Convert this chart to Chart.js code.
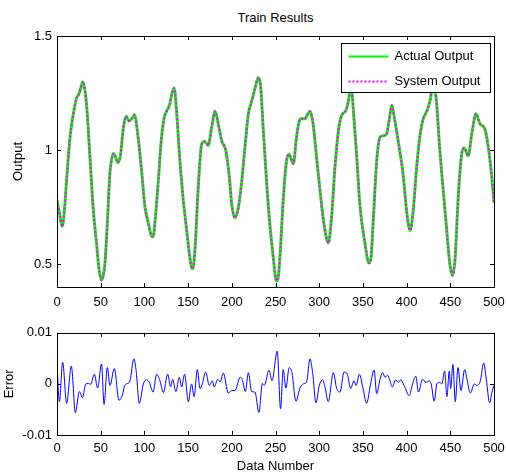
<!DOCTYPE html>
<html><head><meta charset="utf-8">
<script src="https://cdn.jsdelivr.net/npm/chart.js@4.4.0/dist/chart.umd.min.js"></script>
<style>
html,body{margin:0;padding:0;background:#fff;}
#wrap{position:relative;width:506px;height:474px;overflow:hidden;background:#fff;}
#c1{position:absolute;left:0;top:0;}
#c2{position:absolute;left:0;top:320px;}
#title{position:absolute;top:10px;left:0;width:551px;text-align:center;font:13px "Liberation Sans",Arial,sans-serif;line-height:16px;color:#000;}
</style></head><body>
<div id="wrap">
<div id="title">Train Results</div>
<canvas id="c1" width="506" height="320"></canvas>
<canvas id="c2" width="506" height="154"></canvas>
</div>
<script>
// ---- data ----
const outputIndex = [0,3,6,9,11,15,19,22.5,25,27,29.5,32,34,38,41.5,45.5,48,51,53,55,58,60.5,62.5,64.5,66.5,69.5,72.5,76,79,82.5,86,88.5,93,97,100.5,104.5,108,110,112,116,119,122.5,126,129,131,134,137,140.5,144.5,148.5,152,154.5,156,158,161.5,165.5,168.5,171,173,177,181,184.5,188.5,193,197,200,203.5,207.5,211,215,219,222.5,226.5,230.5,233,236,240,243.5,247.5,251,253,255,259,262.5,265.5,268,270.5,274,278.5,283.5,286.5,289.5,293,297,301,304.5,308,310.5,314,318,322,325.5,330.5,333.5,336.5,339,343,346.5,352,357,359,362,365.5,369.5,373,377,380,383,386.5,392,396,400,404,407.5,411.5,415.5,419,423.5,427,430.5,434,438,442,446,449.5,452.5,455.5,459,463,466,470.5,474.5,479.5,484,489.5,493.5,497.5,500];
const actualOutput = [0.78,0.72,0.665,0.76,0.87,1.06,1.165,1.23,1.245,1.27,1.30,1.26,1.19,0.95,0.74,0.58,0.48,0.43,0.45,0.51,0.71,0.90,0.96,0.985,0.975,0.945,0.975,1.10,1.148,1.128,1.14,1.155,1.05,0.90,0.755,0.68,0.625,0.62,0.68,0.87,1.03,1.14,1.175,1.20,1.24,1.272,1.16,0.96,0.78,0.645,0.53,0.48,0.49,0.57,0.83,1.025,1.038,1.03,1.02,1.10,1.17,1.115,1.04,1.00,0.89,0.76,0.703,0.748,0.85,1.01,1.16,1.21,1.27,1.318,1.28,1.09,0.85,0.675,0.527,0.427,0.44,0.527,0.79,0.95,0.982,0.96,0.94,1.056,1.137,1.137,1.155,1.17,1.115,0.968,0.82,0.703,0.62,0.593,0.70,0.924,1.085,1.15,1.173,1.217,1.29,1.18,0.968,0.762,0.60,0.505,0.52,0.70,0.938,1.056,1.063,1.07,1.13,1.195,1.13,1.00,0.894,0.733,0.648,0.733,0.924,1.07,1.137,1.173,1.22,1.29,1.22,1.00,0.82,0.644,0.50,0.451,0.527,0.79,0.982,1.009,0.975,1.07,1.159,1.115,1.093,1.012,0.88,0.77];
const systemOutput = actualOutput.slice();

const errorIndex = [0,2.7,6.5,11,16.4,21,25.6,29,33,36,38.5,42.7,46.5,51,53.8,57.6,60.6,65.6,70.9,74.8,77.4,80.9,83.5,88,90.4,94.2,98.8,102.6,105.6,110,114,117.8,121.7,126.6,130,132.3,136,140,142.6,146,150.3,154,156.8,160.6,163.6,166.3,170,174.3,177.7,180,183.8,186.5,190.3,196,200,203.7,209.4,212,215.5,219,222.7,226.5,231,235,237.2,242.6,246,252,255.8,258.8,261.9,265.7,268.8,273.4,278,281.8,285.6,289.4,292.5,296.3,300.1,303.9,306.6,310.4,316.2,320,323.8,328.4,332.2,336,339.8,342.1,346,349.8,354.3,358.2,362.8,365.8,369.6,372.7,375.3,378,381,383.7,387.5,390.6,393.3,397.1,403.2,405.9,410.5,413.6,418.2,422,425.8,428.1,431.6,434.6,437.7,440.4,443.5,446.1,448.8,450.4,453,455.7,458.8,462.2,466.4,469.1,472.9,477.5,480.5,484.4,488.2,491.2,495,497.7,500];
const errorValues = [0.0041,-0.0035,0.0042,-0.0038,0.0035,-0.0056,-0.0015,-0.0027,0,0.0001,-0.0001,0.0019,-0.0008,0.0039,-0.0040,0.0032,-0.0003,0.0030,-0.0032,-0.0022,-0.0003,0.0001,0.0006,0.0049,0.0028,-0.0038,0,0.0008,0.0003,-0.0016,0.0019,0.0006,-0.0017,0.0019,-0.0006,0.0009,-0.0015,0.0013,-0.0006,0.0019,-0.0035,0,-0.0025,0.0028,-0.0009,0,0.0023,-0.0003,0.0006,-0.0006,0.0009,0.0004,0.0021,-0.0018,-0.0013,-0.0013,0.0013,0.0009,-0.0015,0.0022,-0.0015,-0.0016,-0.0056,0.0001,-0.0003,0.0027,0.0006,0.0064,-0.0049,0.0028,-0.0008,0.0032,0.0022,-0.0034,-0.0008,0,0.0004,0.0049,0.0022,-0.0037,-0.0003,0.0008,-0.0006,-0.0035,0.0022,-0.0009,-0.0016,0.0023,0.0019,-0.0009,0.0006,-0.0003,0.0019,-0.0006,-0.0038,-0.0006,0.0027,-0.0019,0.0009,0.0022,0.0013,0.0017,0.0006,-0.0006,0.0008,0.0003,0.0008,-0.0003,-0.0023,-0.0006,0.0015,-0.0016,0.0009,0.0003,0.0006,0,-0.0034,0,0.0003,0,0.0025,-0.0025,0.0025,-0.0009,0.0038,-0.0035,0.0032,-0.0013,0.0028,0.0009,-0.0018,0,-0.0003,0.0006,0.0041,0.0009,-0.0037,-0.0016,-0.0003];

const xTickStep = 50;
const outputTicks = [0.5, 1, 1.5];
const errorTicks = [-0.01, 0, 0.01];
const legendLabels = ['Actual Output', 'System Output'];
const plotTitle = 'Train Results';
const xTitle = 'Data Number';
const yTitleTop = 'Output';
const yTitleBottom = 'Error';

// ---- rendering ----
document.getElementById('title').textContent = plotTitle;
const FONT = {family:'"Liberation Sans", Arial, sans-serif', size:13};

const framePlugin = {
  id:'frame',
  afterDatasetsDraw(chart){
    const {ctx, chartArea:a, scales:{x,y}} = chart;
    ctx.save();
    ctx.strokeStyle = '#000'; ctx.lineWidth = 1;
    ctx.beginPath();
    x.ticks.forEach(t=>{
      const px = Math.round(x.getPixelForValue(t.value))+0.5;
      ctx.moveTo(px,a.bottom); ctx.lineTo(px,a.bottom-4);
      ctx.moveTo(px,a.top); ctx.lineTo(px,a.top+4);
    });
    y.ticks.forEach(t=>{
      const py = Math.round(y.getPixelForValue(t.value))+0.5;
      ctx.moveTo(a.left,py); ctx.lineTo(a.left+4,py);
      ctx.moveTo(a.right,py); ctx.lineTo(a.right-4,py);
    });
    ctx.stroke();
    ctx.strokeRect(Math.round(a.left)+0.5, Math.round(a.top)+0.5, Math.round(a.right-a.left), Math.round(a.bottom-a.top));
    ctx.restore();
  }
};

const legendPlugin = {
  id:'boxLegend',
  afterDraw(chart){
    const {ctx, chartArea:a} = chart;
    const bx = Math.round(a.right) - 152.5, by = Math.round(a.top) + 7.5, bw = 149, bh = 49;
    ctx.save();
    ctx.fillStyle = '#fff'; ctx.fillRect(bx,by,bw,bh);
    ctx.strokeStyle = '#000'; ctx.lineWidth = 1; ctx.strokeRect(bx,by,bw,bh);
    ctx.font = '13px "Liberation Sans", Arial, sans-serif';
    ctx.textBaseline = 'middle'; ctx.fillStyle = '#000';
    const ds = chart.data.datasets;
    const rows = [by+13, by+38];
    [0,1].forEach(i=>{
      const d = ds[i];
      ctx.beginPath();
      ctx.strokeStyle = d.borderColor;
      ctx.lineWidth = 2;
      ctx.setLineDash(d.borderDash || []);
      ctx.moveTo(bx+7, rows[i]); ctx.lineTo(bx+47, rows[i]);
      ctx.stroke();
      ctx.setLineDash([]);
      ctx.fillText(d.label, bx+53, rows[i]);
    });
    ctx.restore();
  }
};

const xy = (xs, ys) => xs.map((v,i)=>({x:v, y:ys[i]}));
const fitX = h => function(s){ s.height = h; s.paddingLeft = 0; s.paddingRight = 0; };

new Chart(document.getElementById('c1'), {
  type:'line',
  data:{datasets:[
    {label:legendLabels[0], data:xy(outputIndex, actualOutput), borderColor:'#00ff00', borderWidth:3, pointRadius:0, cubicInterpolationMode:'monotone', order:1},
    {label:legendLabels[1], data:xy(outputIndex, systemOutput), borderColor:'#ff00ff', borderWidth:2, borderDash:[2,2], pointRadius:0, cubicInterpolationMode:'monotone', order:0}
  ]},
  options:{
    responsive:false, animation:false, devicePixelRatio:1,
    layout:{padding:{top:36, right:12, left:0, bottom:0}},
    plugins:{legend:{display:false}, tooltip:{enabled:false}, title:{display:false}},
    scales:{
      x:{type:'linear', min:0, max:500, ticks:{stepSize:xTickStep, padding:8, color:'#000', font:FONT, maxRotation:0},
         grid:{display:false, drawTicks:false}, border:{display:false}, afterFit:fitX(33)},
      y:{type:'linear', min:0.4, max:1.5,
         afterBuildTicks(s){s.ticks = outputTicks.map(v=>({value:v}));},
         ticks:{padding:5, color:'#000', font:FONT, callback:v=>String(v)},
         grid:{display:false, drawTicks:false}, border:{display:false},
         title:{display:true, text:yTitleTop, color:'#000', font:FONT, padding:{top:11,bottom:0}},
         afterFit(s){s.width=57;}}
    }
  },
  plugins:[framePlugin, legendPlugin]
});

new Chart(document.getElementById('c2'), {
  type:'line',
  data:{datasets:[
    {label:yTitleBottom, data:xy(errorIndex, errorValues), borderColor:'#0000ff', borderWidth:1, pointRadius:0, cubicInterpolationMode:'monotone'}
  ]},
  options:{
    responsive:false, animation:false, devicePixelRatio:1,
    layout:{padding:{top:10, right:12, left:0, bottom:0}},
    plugins:{legend:{display:false}, tooltip:{enabled:false}},
    scales:{
      x:{type:'linear', min:0, max:500, ticks:{stepSize:xTickStep, padding:6, color:'#000', font:FONT, maxRotation:0},
         grid:{display:false, drawTicks:false}, border:{display:false},
         title:{display:true, text:xTitle, color:'#000', font:FONT, padding:{top:0,bottom:0}},
         afterFit:fitX(39)},
      y:{type:'linear', min:-0.01, max:0.01,
         afterBuildTicks(s){s.ticks = errorTicks.map(v=>({value:v}));},
         ticks:{padding:5, color:'#000', font:FONT, callback:v=>String(v)},
         grid:{display:false, drawTicks:false}, border:{display:false},
         title:{display:true, text:yTitleBottom, color:'#000', font:FONT, padding:{top:2,bottom:0}},
         afterFit(s){s.width=57;}}
    }
  },
  plugins:[framePlugin]
});
</script>
</body></html>
